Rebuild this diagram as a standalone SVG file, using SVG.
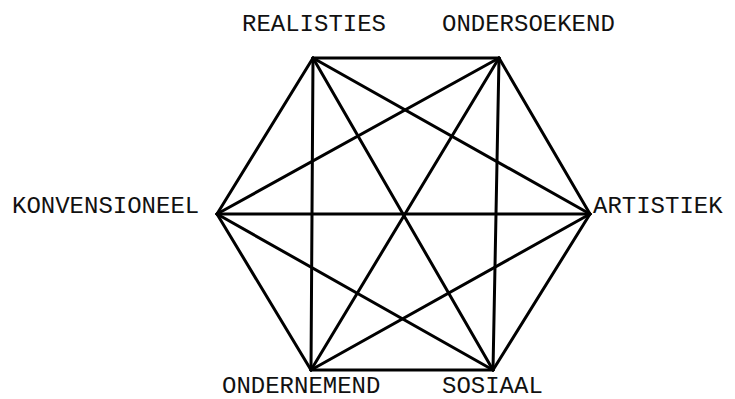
<svg xmlns="http://www.w3.org/2000/svg" width="735" height="399" viewBox="0 0 735 399">
<style>
.lbl{font-family:"Liberation Mono","Courier New",monospace;font-size:24px;fill:#111}
.e{stroke:#000;stroke-width:3;stroke-linecap:round;fill:none}
</style>
<rect width="735" height="399" fill="#fff"/>
<g id="connectors">
<line class="e" x1="313" y1="58" x2="499" y2="58"/>
<line class="e" x1="313" y1="58" x2="590" y2="214"/>
<line class="e" x1="313" y1="58" x2="493" y2="370"/>
<line class="e" x1="313" y1="58" x2="311" y2="370"/>
<line class="e" x1="313" y1="58" x2="217" y2="214"/>
<line class="e" x1="499" y1="58" x2="590" y2="214"/>
<line class="e" x1="499" y1="58" x2="493" y2="370"/>
<line class="e" x1="499" y1="58" x2="311" y2="370"/>
<line class="e" x1="499" y1="58" x2="217" y2="214"/>
<line class="e" x1="590" y1="214" x2="493" y2="370"/>
<line class="e" x1="590" y1="214" x2="311" y2="370"/>
<line class="e" x1="590" y1="214" x2="217" y2="214"/>
<line class="e" x1="493" y1="370" x2="311" y2="370"/>
<line class="e" x1="493" y1="370" x2="217" y2="214"/>
<line class="e" x1="311" y1="370" x2="217" y2="214"/>
</g>
<g id="realisties"><text class="lbl" x="242" y="31">REALISTIES</text></g>
<g id="ondersoekend"><text class="lbl" x="442" y="31">ONDERSOEKEND</text></g>
<g id="konvensioneel"><text class="lbl" x="12" y="213">KONVENSIONEEL</text></g>
<g id="artistiek"><text class="lbl" x="593" y="213">ARTISTIEK</text></g>
<g id="ondernemend"><text class="lbl" x="222" y="393">ONDERNEMEND</text></g>
<g id="sosiaal"><text class="lbl" x="442" y="393">SOSIAAL</text></g>
</svg>
